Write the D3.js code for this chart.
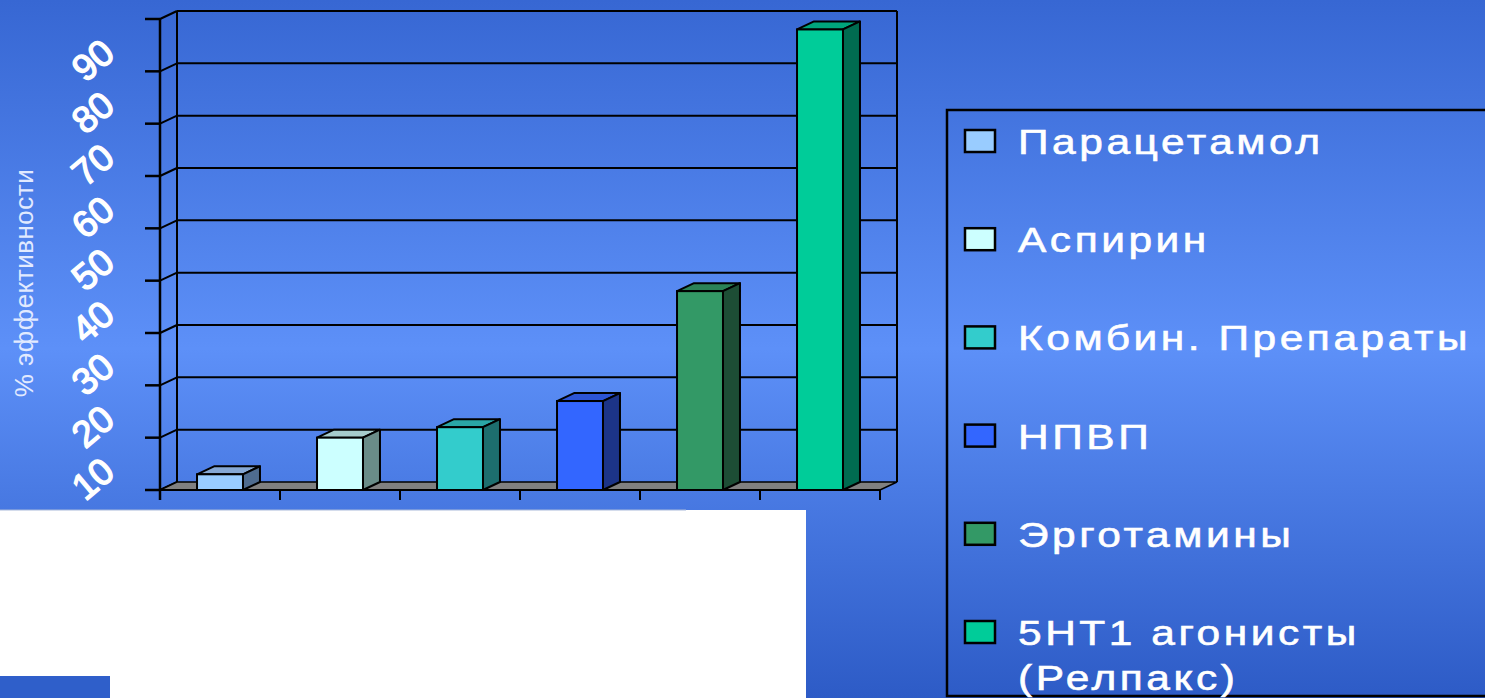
<!DOCTYPE html>
<html>
<head>
<meta charset="utf-8">
<script src="https://cdn.jsdelivr.net/npm/d3@7"></script>
<style>
  html, body { margin: 0; padding: 0; overflow: hidden; }
  svg { display: block; }
</style>
</head>
<body>
<script>
// ---- data ----
const categories = ["Парацетамол", "Аспирин", "Комбин. Препараты", "НПВП", "Эрготамины", "5HT1 агонисты\n(Релпакс)"];
const values = [13, 20, 22, 27, 48, 98];
const frontColors = ["#99ccff", "#ccffff", "#33cccc", "#3366ff", "#339966", "#00cc99"];
const topColors   = ["#86a8d4", "#a6cccc", "#2aa6a6", "#2c55d6", "#2b8257", "#00a57c"];
const sideColors  = ["#4f6c8f", "#6a8c88", "#1d6e6e", "#1c3488", "#1d4d35", "#006b50"];
const yTicks = [10, 20, 30, 40, 50, 60, 70, 80, 90];
const yGrid = [10, 20, 30, 40, 50, 60, 70, 80, 90, 100];
const yTitle = "% эффективности";

const W = 1485, H = 698;
const svg = d3.select("body").append("svg").attr("width", W).attr("height", H);

// background gradient
const defs = svg.append("defs");
const g = defs.append("linearGradient").attr("id", "bg").attr("x1", 0).attr("y1", 0).attr("x2", 0).attr("y2", 1);
g.append("stop").attr("offset", "0").attr("stop-color", "#3767d3");
g.append("stop").attr("offset", "0.5").attr("stop-color", "#5d90f8");
g.append("stop").attr("offset", "1").attr("stop-color", "#2d5bc6");
svg.append("rect").attr("width", W).attr("height", H).attr("fill", "url(#bg)");

// scales
const x = d3.scaleBand().domain(categories).range([160, 880]).paddingInner(0.617).paddingOuter(0.3085);
const y = d3.scaleLinear().domain([10, 100]).range([490, 19]);
const DX = 17, DY = -8;
const x0 = 160, x1 = 880, yFloor = y(10), yTop = y(100);

const chart = svg.append("g");

// side wall diagonals & back wall gridlines
yGrid.forEach(v => {
  chart.append("line").attr("x1", x0).attr("y1", y(v)).attr("x2", x0 + DX).attr("y2", y(v) + DY)
    .attr("stroke", "#000").attr("stroke-width", 2);
  if (v > 10) chart.append("line").attr("x1", x0 + DX).attr("y1", y(v) + DY).attr("x2", x1 + DX).attr("y2", y(v) + DY)
    .attr("stroke", "#000").attr("stroke-width", 2);
});
// back wall verticals
chart.append("line").attr("x1", x0 + DX).attr("x2", x0 + DX).attr("y1", yTop + DY).attr("y2", yFloor + DY).attr("stroke", "#000").attr("stroke-width", 2);
chart.append("line").attr("x1", x1 + DX).attr("x2", x1 + DX).attr("y1", yTop + DY).attr("y2", yFloor + DY).attr("stroke", "#000").attr("stroke-width", 2);

// floor
chart.append("polygon")
  .attr("points", [[x0, yFloor], [x1, yFloor], [x1 + DX, yFloor + DY], [x0 + DX, yFloor + DY]].map(p => p.join(",")).join(" "))
  .attr("fill", "#808080").attr("stroke", "#000").attr("stroke-width", 1.5);

// front value axis
chart.append("line").attr("x1", x0).attr("x2", x0).attr("y1", yTop).attr("y2", yFloor + 10).attr("stroke", "#000").attr("stroke-width", 2.5);
yGrid.forEach(v => {
  chart.append("line").attr("x1", x0 - 15).attr("x2", x0).attr("y1", y(v)).attr("y2", y(v)).attr("stroke", "#000").attr("stroke-width", 2.5);
});
// category axis ticks
const step = x.step();
d3.range(categories.length + 1).forEach(i => {
  const xx = x0 + i * step;
  chart.append("line").attr("x1", xx).attr("x2", xx).attr("y1", yFloor).attr("y2", yFloor + 10).attr("stroke", "#000").attr("stroke-width", 2);
});
chart.append("line").attr("x1", x0).attr("x2", x1).attr("y1", yFloor).attr("y2", yFloor).attr("stroke", "#000").attr("stroke-width", 2);

// value tick labels (rotated)
chart.selectAll("text.ytick").data(yTicks).enter().append("text")
  .attr("class", "ytick")
  .attr("transform", d => `translate(93,${y(d) - 11}) rotate(-40)`)
  .attr("text-anchor", "middle").attr("dominant-baseline", "central")
  .attr("font-family", "Liberation Sans, Arial, sans-serif")
  .attr("font-size", 37).attr("fill", "#fff")
  .attr("stroke", "#fff").attr("stroke-width", 1.4)
  .text(d => d);

// axis title
svg.append("text")
  .attr("transform", "translate(33,283) rotate(-90)")
  .attr("text-anchor", "middle")
  .attr("font-family", "Liberation Sans, Arial, sans-serif").attr("font-size", 26)
  .attr("letter-spacing", 0.5)
  .attr("fill", "#e2eaff").text(yTitle);

// bars
const bars = chart.selectAll("g.bar").data(categories).enter().append("g").attr("class", "bar");
bars.each(function (c, i) {
  const gg = d3.select(this);
  const bx = x(c), bw = x.bandwidth(), by = y(values[i]);
  gg.append("polygon")
    .attr("points", [[bx, by], [bx + bw, by], [bx + bw + DX, by + DY], [bx + DX, by + DY]].map(p => p.join(",")).join(" "))
    .attr("fill", topColors[i]).attr("stroke", "#000").attr("stroke-width", 2).attr("stroke-linejoin", "round");
  gg.append("polygon")
    .attr("points", [[bx + bw, by], [bx + bw + DX, by + DY], [bx + bw + DX, yFloor + DY], [bx + bw, yFloor]].map(p => p.join(",")).join(" "))
    .attr("fill", sideColors[i]).attr("stroke", "#000").attr("stroke-width", 2).attr("stroke-linejoin", "round");
  gg.append("rect").attr("x", bx).attr("y", by).attr("width", bw).attr("height", yFloor - by)
    .attr("fill", frontColors[i]).attr("stroke", "#000").attr("stroke-width", 2);
});

// white box and small blue piece
svg.append("rect").attr("x", 0).attr("y", 510).attr("width", 806).attr("height", 188).attr("fill", "#ffffff");
svg.append("line").attr("x1", 0).attr("x2", 686).attr("y1", 510).attr("y2", 510).attr("stroke", "#a9b9d9").attr("stroke-width", 1);
svg.append("rect").attr("x", 0).attr("y", 676).attr("width", 110).attr("height", 22).attr("fill", "#2f5fca");

// legend
const lg = svg.append("g");
lg.append("rect").attr("x", 947).attr("y", 110).attr("width", 600).attr("height", 586)
  .attr("fill", "none").attr("stroke", "#000").attr("stroke-width", 2.5);
categories.forEach((c, i) => {
  const cy = 141 + i * 98.2;
  lg.append("rect").attr("x", 965).attr("y", cy - 11).attr("width", 30).attr("height", 22)
    .attr("fill", frontColors[i]).attr("stroke", "#000").attr("stroke-width", 2.5);
  const t = lg.append("text").attr("transform", `translate(1018,${cy + 13}) scale(1.18,1)`)
    .attr("font-family", "Liberation Sans, Arial, sans-serif").attr("font-size", 36)
    .attr("letter-spacing", 3).attr("fill", "#fff")
    .attr("stroke", "#fff").attr("stroke-width", 0.6);
  c.split("\n").forEach((line, k) => {
    t.append("tspan").attr("x", 0).attr("dy", k === 0 ? 0 : 45).text(line);
  });
});
</script>
</body>
</html>
